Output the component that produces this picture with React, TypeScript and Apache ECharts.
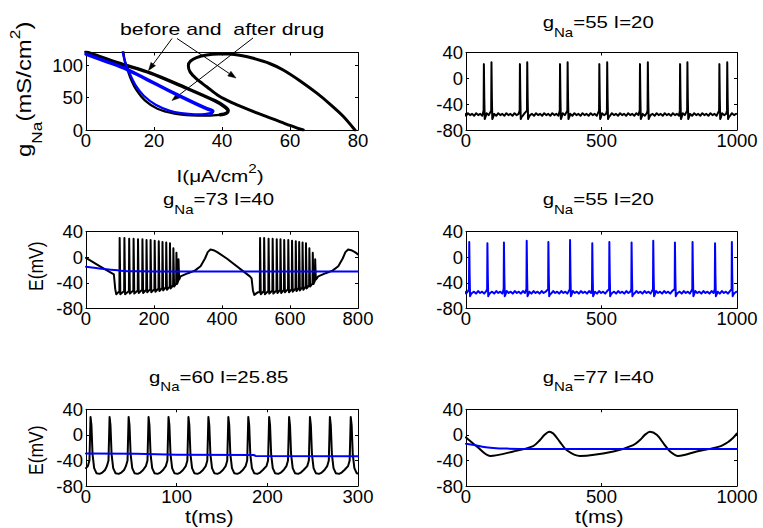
import React, { useEffect, useRef } from "react";
import * as echarts from "echarts";

const FONT = "'Liberation Sans', Arial, Helvetica, sans-serif";
const BLACK = "#000000";
const BLUE = "#0000ff";

// ---------- Panel 1: (I, gNa) bifurcation curves ----------
const beforeDrugOuterLoop = [[63.9,0],[58.5,10],[53,21],[48,31],[43.3,41.5],[39,53],[35.5,67],[32.5,79],[30.6,90],[30.1,100],[30.8,107],[32.5,112],[35.5,116],[39,117.5],[42,117.5],[46,115],[49.2,111],[54,103],[58,93],[63,76],[67.9,57],[72,39],[75.7,21],[79.1,0]];
const beforeDrugInnerUpper = [[0,121],[10,103],[19,88],[29,66],[38,45],[40.8,36],[41.8,30],[41.3,26],[39.5,23.5]];
const beforeDrugInnerLower = [[39.5,23.5],[36,22.4],[31,22.8],[26,25.5],[21,33],[17.3,46],[14.8,62],[13.1,80],[12,97],[11.3,110],[11,121]];
const afterDrugUpper = [[0,117.5],[6,106],[12,94],[18,78],[24,62],[31,44],[35.5,33],[37.3,29],[36.8,26]];
const afterDrugLower = [[36.8,26],[35,24.6],[32,24.3],[28,26],[24.5,30],[20.5,39],[17,53],[14.5,70],[12.8,88],[11.5,105],[10.8,121]];

// ---------- Panel 2: gNa=55 I=20 (before) ----------
const p2SpikeTimes = [66,94,199,226,347,375,492,521,642,671,790,817,935,964];
const p2SpikePeaks = [22,25,22,25,22,25,22,25,22,25,22,25,22,25];
const p2RestCycle = [-55,-58,-54,-57,-55,-58,-54,-57];
const p2Ahp = -63;

// ---------- Panel 4: gNa=55 I=20 (after) ----------
const p4SpikeTimes = [12,79,140,224,304,384,466,529,611,691,771,836,919,981];
const p4SpikePeaks = [24,22,23,26,24,27,22,24,23,26,23,24,22,24];
const p4RestCycle = [-54,-57,-53,-56,-54,-57,-53,-56];
const p4Ahp = -61;

// ---------- Panel 3: gNa=73 I=40 ----------
const p3Pre1 = [[0,-1],[40,-14],[82,-27],[86,-50],[89,-58],[95,-55]];
const p3Burst1Times = [99,113,127,140,153,166,178,190,202,214,225,236,247,257,266,272];
const p3Post1 = [[278,-30],[300,-25],[320,-21],[337,-14],[350,-2],[358,8],[366,12],[375,11],[386,8],[414,-2],[482,-30],[487,-33],[491,-52],[495,-59],[505,-55]];
const p3Burst2Times = [512,524,537,549,561,572,583,595,606,617,627,637,647,657,667,674];
const p3Post2 = [[683,-30],[705,-25],[725,-21],[742,-14],[755,-2],[763,8],[771,12],[780,11],[791,8],[800,4.5]];
const p3BurstPeaks = [30,30,29,29,28,28,27,27,26,25,24,23,22,14,7,-3];
const p3BurstTroughs = [-58,-58,-57,-57,-56,-56,-55,-55,-54,-53,-52,-51,-49,-46,-42,-35];
const p3Blue = [[0,-15],[30,-17],[60,-19],[100,-21],[150,-22],[250,-22.5],[800,-22.5]];

// ---------- Panel 5: gNa=60 I=25.85 ----------
const p5SpikeTimes = [5,26,47,69,91,113,135,157,179,202,224,247,269,292];
const p5SpikeShape = [[-3,-49],[-1.2,-40],[0,28],[1,15],[2.2,-30],[4,-52],[6.5,-60],[10,-61],[13,-59],[16,-55]];
const p5Blue = [[0,-29],[55,-29.5],[100,-31],[185,-31.5],[187,-33],[300,-33.5]];

// ---------- Panel 6: gNa=77 I=40 ----------
const p6Black = [[0,-4],[40,-18],[89,-33],[175,-26],[248,-17.5],[273,-8],[290,0],[307,5],[322,2],[345,-10],[372,-24],[421,-33],[544,-26],[617,-16],[642,-8],[660,0],[679,5],[704,0],[730,-14],[753,-26],[783,-33],[851,-26],[937,-18],[968,-11],[985,-5],[999,2]];
const p6Blue = [[0,-14],[30,-16],[60,-18.5],[100,-20.5],[150,-21.5],[250,-22],[1000,-22]];

function regularTrain(times: number[], peaks: number[], rest: number[], ahp: number, tEnd: number) {
  const pts: number[][] = [[0, rest[0]]];
  let ri = 1;
  let prev = -10;
  for (let i = 0; i < times.length; i++) {
    const ts = times[i];
    for (let t = prev + 10; t < ts - 3; t += 7.5) pts.push([t, rest[ri++ % rest.length]]);
    pts.push([ts - 1, -50], [ts, peaks[i]], [ts + 1.5, -30], [ts + 3, ahp], [ts + 6, ahp + 3]);
    prev = ts;
  }
  for (let t = prev + 10; t <= tEnd; t += 7.5) pts.push([t, rest[ri++ % rest.length]]);
  return pts;
}

function burst(times: number[], peaks: number[], troughs: number[]) {
  const pts: number[][] = [];
  for (let i = 0; i < times.length; i++) {
    pts.push([times[i] - 0.8, (i === 0 ? -55 : troughs[i - 1] + 5)], [times[i], peaks[i]], [times[i] + 2, troughs[i]]);
  }
  return pts;
}

function shapedTrain(times: number[], shape: number[][], start: number[]) {
  const pts: number[][] = [start];
  times.forEach((ts) => shape.forEach(([dt, v]) => { if (ts + dt > 0) pts.push([ts + dt, v]); }));
  return pts;
}

const p2Trace = regularTrain(p2SpikeTimes, p2SpikePeaks, p2RestCycle, p2Ahp, 1000);
const p4Trace = regularTrain(p4SpikeTimes, p4SpikePeaks, p4RestCycle, p4Ahp, 1000);
const p3Trace = [...p3Pre1, ...burst(p3Burst1Times, p3BurstPeaks, p3BurstTroughs), ...p3Post1, ...burst(p3Burst2Times, p3BurstPeaks, p3BurstTroughs), ...p3Post2];
const p5Trace = shapedTrain(p5SpikeTimes, p5SpikeShape, [0, -52]);

const grids = [
  { left: 86, top: 52.5, width: 272, height: 77.5 },
  { left: 466, top: 52.5, width: 271, height: 77.5 },
  { left: 86, top: 231.7, width: 272, height: 76.6 },
  { left: 466, top: 231.7, width: 271, height: 76.6 },
  { left: 86, top: 409.3, width: 272, height: 76.7 },
  { left: 466, top: 409.3, width: 271, height: 76.7 },
];
const xRanges = [[0, 80, 20], [0, 1000, 500], [0, 800, 200], [0, 1000, 500], [0, 300, 100], [0, 1000, 500]];
const yRanges = [[0, 120, 50], [-80, 40, 40], [-80, 40, 40], [-80, 40, 40], [-80, 40, 40], [-80, 40, 40]];

let measureCtx: CanvasRenderingContext2D | null = null;
function textWidth(t: string, size: number) {
  if (!measureCtx) measureCtx = document.createElement("canvas").getContext("2d");
  measureCtx!.font = `${size}px ${FONT}`;
  return measureCtx!.measureText(t).width;
}

type Part = { t: string; s: number; dy?: number };
function composite(parts: Part[], x: number, y: number, opts: any = {}) {
  let cx = 0;
  const children: any[] = [];
  parts.forEach((p) => {
    children.push({
      type: "text", x: cx, y: (p.dy || 0) - 0.35 * p.s,
      style: { text: p.t, font: `${p.s}px ${FONT}`, fill: BLACK, align: "left", verticalAlign: "middle" },
    });
    cx += textWidth(p.t, p.s);
  });
  return { type: "group", x, y, ...opts, children };
}

function arrow(x1: number, y1: number, x2: number, y2: number) {
  const ang = Math.atan2(y2 - y1, x2 - x1);
  const L = 8, W = 2.8;
  const bx = x2 - L * Math.cos(ang), by = y2 - L * Math.sin(ang);
  const px = -Math.sin(ang) * W, py = Math.cos(ang) * W;
  return [
    { type: "line", shape: { x1, y1, x2: bx, y2: by }, style: { stroke: BLACK, lineWidth: 1 } },
    { type: "polygon", shape: { points: [[x2, y2], [bx + px, by + py], [bx - px, by - py]] }, style: { fill: BLACK, stroke: BLACK, lineWidth: 0.5 } },
  ];
}

function title(main: string, rest: string, x: number, baseline: number) {
  return composite([{ t: main, s: 17 }, { t: "Na", s: 12.5, dy: 9 }, { t: rest, s: 17 }], x, baseline, { scaleX: 1.2 });
}

export default function App() {
  const ref = useRef<HTMLDivElement>(null);
  useEffect(() => {
    const chart = echarts.init(ref.current!, undefined, { renderer: "svg" });
    const xAxis: any[] = [];
    const yAxis: any[] = [];
    const tickBase = { inside: true, length: 3, lineStyle: { color: BLACK, width: 1 } };
    const lineBase = { show: true, onZero: false, lineStyle: { color: BLACK, width: 1 } };
    const labelBase = { color: BLACK, fontSize: 18.5, fontFamily: FONT, formatter: (v: number) => String(v) };
    grids.forEach((_, k) => {
      const [xmin, xmax, xi] = xRanges[k];
      const [ymin, ymax, yi] = yRanges[k];
      xAxis.push({ gridIndex: k, type: "value", min: xmin, max: xmax, interval: xi, position: "bottom", axisLine: lineBase, axisTick: tickBase, splitLine: { show: false }, axisLabel: { ...labelBase, margin: 1 } });
      xAxis.push({ gridIndex: k, type: "value", min: xmin, max: xmax, interval: xi, position: "top", axisLine: lineBase, axisTick: tickBase, splitLine: { show: false }, axisLabel: { show: false } });
      yAxis.push({ gridIndex: k, type: "value", min: ymin, max: ymax, interval: yi, position: "left", axisLine: lineBase, axisTick: tickBase, splitLine: { show: false }, axisLabel: { ...labelBase, margin: 3, showMaxLabel: ymax % yi === 0 } });
      yAxis.push({ gridIndex: k, type: "value", min: ymin, max: ymax, interval: yi, position: "right", axisLine: lineBase, axisTick: tickBase, splitLine: { show: false }, axisLabel: { show: false } });
    });
    const ser = (k: number, data: number[][], color: string, width: number, smooth: any = false) => ({
      type: "line", xAxisIndex: 2 * k, yAxisIndex: 2 * k, data, showSymbol: false, symbol: "none", smooth,
      lineStyle: { color, width, join: "round", cap: "round" }, silent: true, clip: true,
    });
    const series = [
      ser(0, beforeDrugOuterLoop, BLACK, 3, 0.3),
      ser(0, beforeDrugInnerLower, BLACK, 2.3, 0.3),
      ser(0, beforeDrugInnerUpper, BLACK, 3.5, 0.3),
      ser(0, afterDrugLower, BLUE, 2.3, 0.3),
      ser(0, afterDrugUpper, BLUE, 3.5, 0.3),
      ser(1, p2Trace, BLACK, 2),
      ser(2, p3Trace, BLACK, 2),
      ser(2, p3Blue, BLUE, 2, 0.3),
      ser(3, p4Trace, BLUE, 2),
      ser(4, p5Trace, BLACK, 2),
      ser(4, p5Blue, BLUE, 2),
      ser(5, p6Black, BLACK, 2, 0.3),
      ser(5, p6Blue, BLUE, 2, 0.3),
    ];
    const graphic: any[] = [
      composite([{ t: "before and  after drug", s: 17 }], 120, 35, { scaleX: 1.25 }),
      ...arrow(172, 38.5, 148.5, 70.5),
      ...arrow(177, 38.5, 236, 78),
      ...arrow(253, 38, 172, 100.5),
      composite([{ t: "I(\u03bcA/cm", s: 17 }, { t: "2", s: 12.5, dy: -9.5 }, { t: ")", s: 17 }], 176.5, 182, { scaleX: 1.22 }),
      composite([{ t: "g", s: 18 }, { t: "Na", s: 13, dy: 9 }, { t: "(mS/cm", s: 18 }, { t: "2", s: 13, dy: -9.5 }, { t: ")", s: 18 }], 31, 157, { rotation: Math.PI / 2, scaleX: 1.33, scaleY: 1.15 }),
      title("g", "=55 I=20", 542.7, 28.3),
      title("g", "=73 I=40", 163, 205),
      title("g", "=55 I=20", 542.7, 205),
      title("g", "=60 I=25.85", 149, 382.7),
      title("g", "=77 I=40", 542.7, 382.7),
      composite([{ t: "E(mV)", s: 17.5 }], 43, 291, { rotation: Math.PI / 2, scaleY: 1.2 }),
      composite([{ t: "E(mV)", s: 17.5 }], 43, 475, { rotation: Math.PI / 2, scaleY: 1.2 }),
      composite([{ t: "t(ms)", s: 17.5 }], 185, 523, { scaleX: 1.22 }),
      composite([{ t: "t(ms)", s: 17.5 }], 575, 523, { scaleX: 1.22 }),
    ];
    chart.setOption({
      animation: false,
      backgroundColor: "#ffffff",
      grid: grids.map((g) => ({ ...g, containLabel: false, outerBoundsMode: "none" })),
      xAxis, yAxis, series, graphic,
    });
    return () => chart.dispose();
  }, []);
  return <div ref={ref} style={{ position: "absolute", left: 0, top: 0, width: 763, height: 528 }} />;
}
